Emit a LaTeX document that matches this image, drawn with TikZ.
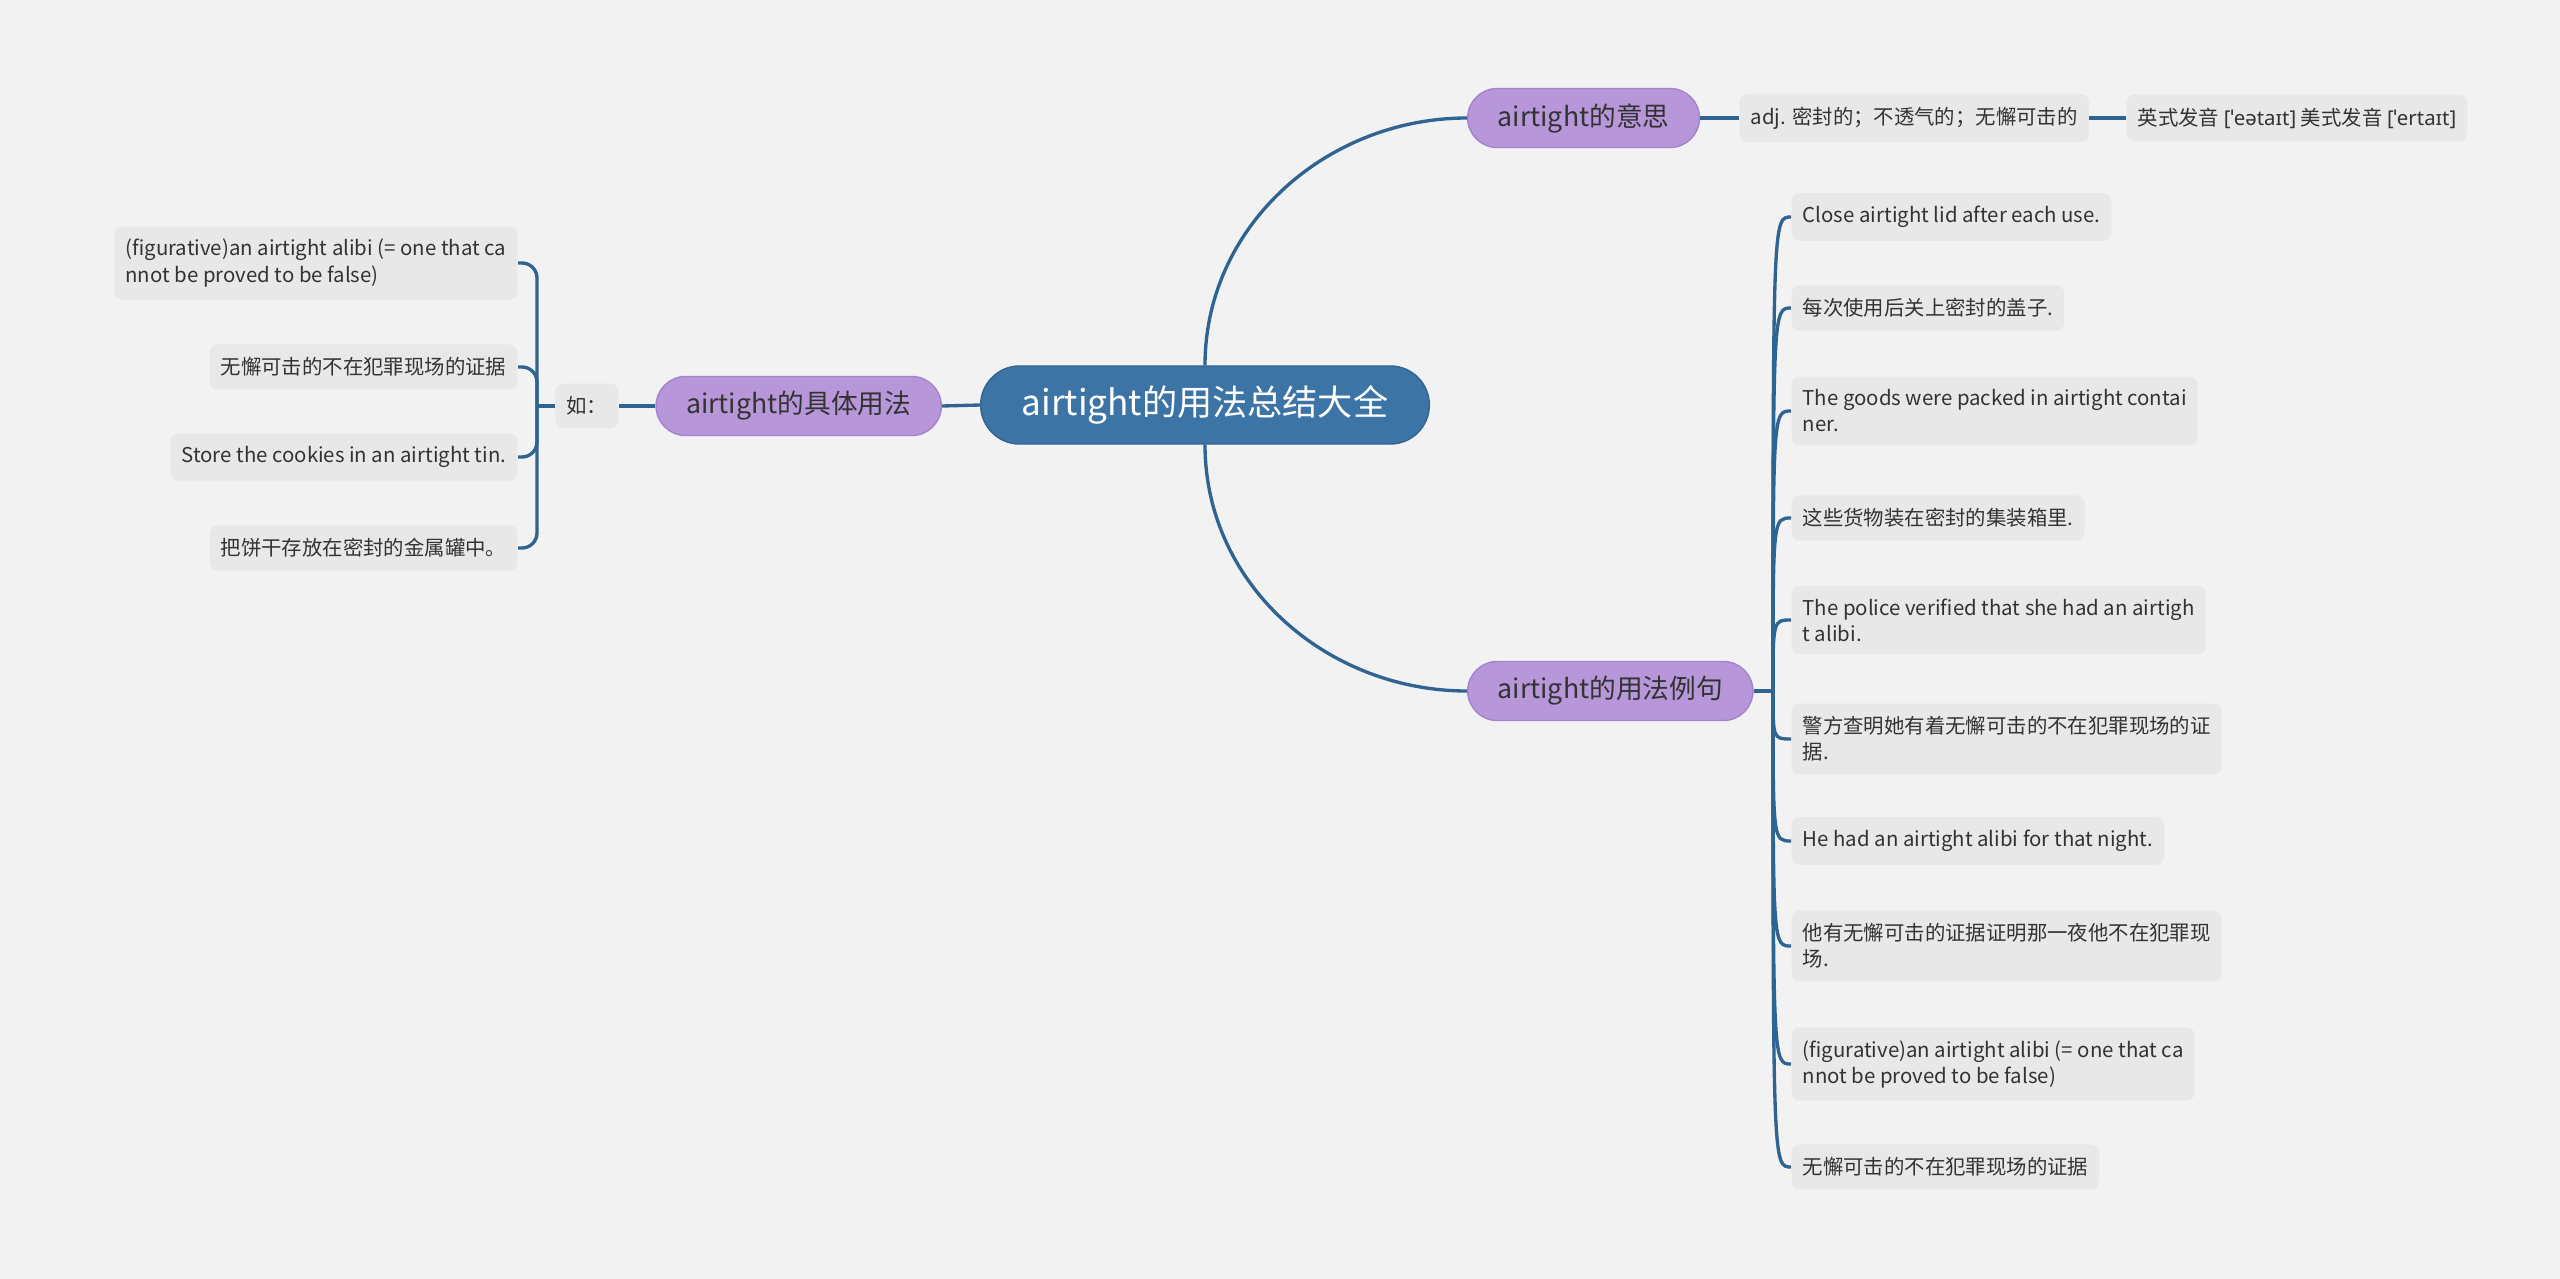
\documentclass[tikz,border=0pt]{standalone}
\usepackage{fontspec}
\setmainfont{Noto Sans CJK SC}
\newfontfamily\ipafont{Noto Sans}
\usetikzlibrary{calc}
\definecolor{bgcol}{HTML}{F2F2F2}
\definecolor{rootcol}{HTML}{3D74A6}
\definecolor{rootline}{HTML}{32658F}
\definecolor{topiccol}{HTML}{B797DA}
\definecolor{topicline}{HTML}{A583CC}
\definecolor{leafcol}{HTML}{E8E8E8}
\definecolor{linkcol}{HTML}{2F6392}
\definecolor{textcol}{HTML}{333333}
\tikzset{
  rootnode/.style={fill=rootcol, draw=rootline, rounded corners=0.39cm,
    minimum height=0.78cm, inner xsep=0.41cm, text=white,
    font=\fontsize{10pt}{12pt}\selectfont},
  topicnode/.style={fill=topiccol, draw=topicline, rounded corners=0.295cm,
    minimum height=0.59cm, inner xsep=0.3cm, text=textcol,
    font=\fontsize{7.6pt}{9pt}\selectfont},
  leafnode/.style={fill=leafcol, rounded corners=0.08cm, inner xsep=0.11cm,
    inner ysep=0.13cm, align=left, text=textcol,
    font=\fontsize{5.8pt}{7.4pt}\selectfont},
  link/.style={draw=linkcol, line width=0.95pt},
}
\begin{document}
\begin{tikzpicture}[x=0.01cm,y=-0.01cm]
\useasboundingbox (0,0) rectangle (2560,1279);
\fill[bgcol] (0,0) rectangle (2560,1279);
% centre and main topics
\node[rootnode] (root) at (1205,405) {airtight的用法总结大全};
\node[topicnode,anchor=west] (mean) at (1467,118) {airtight的意思};
\node[topicnode,anchor=west] (examples) at (1467,691) {airtight的用法例句};
\node[topicnode,anchor=east] (usage) at (942,406) {airtight的具体用法};
% meaning
\node[leafnode,anchor=west] (adj) at (1739,118) {adj. 密封的；不透气的；无懈可击的};
\node[leafnode,anchor=west] (phon) at (2126,118)
  {英式发音 {\ipafont[ˈeətaɪt]} 美式发音 {\ipafont[ˈertaɪt]}};
% usage
\node[leafnode,anchor=east] (eg) at (619,406) {如：};
\node[leafnode,anchor=east] (u1) at (518,263)
  {(figurative)an airtight alibi (= one that ca\\nnot be proved to be false)};
\node[leafnode,anchor=east] (u2) at (518,367) {无懈可击的不在犯罪现场的证据};
\node[leafnode,anchor=east] (u3) at (518,457) {Store the cookies in an airtight tin.};
\node[leafnode,anchor=east] (u4) at (518,548) {把饼干存放在密封的金属罐中。};
% examples
\node[leafnode,anchor=west] (e1) at (1791,217) {Close airtight lid after each use.};
\node[leafnode,anchor=west] (e2) at (1791,308) {每次使用后关上密封的盖子.};
\node[leafnode,anchor=west] (e3) at (1791,411)
  {The goods were packed in airtight contai\\ner.};
\node[leafnode,anchor=west] (e4) at (1791,518) {这些货物装在密封的集装箱里.};
\node[leafnode,anchor=west] (e5) at (1791,620)
  {The police verified that she had an airtigh\\t alibi.};
\node[leafnode,anchor=west] (e6) at (1791,739)
  {警方查明她有着无懈可击的不在犯罪现场的证\\据.};
\node[leafnode,anchor=west] (e7) at (1791,841) {He had an airtight alibi for that night.};
\node[leafnode,anchor=west] (e8) at (1791,946)
  {他有无懈可击的证据证明那一夜他不在犯罪现\\场.};
\node[leafnode,anchor=west] (e9) at (1791,1064)
  {(figurative)an airtight alibi (= one that ca\\nnot be proved to be false)};
\node[leafnode,anchor=west] (e10) at (1791,1167) {无懈可击的不在犯罪现场的证据};
% connectors
\draw[link] (root.north) .. controls +(0,-140) and +(-140,0) .. (mean.west);
\draw[link] (root.south) .. controls +(0,140) and +(-140,0) .. (examples.west);
\draw[link] (root.west) -- (usage.east);
\draw[link] (mean.east) -- (adj.west);
\draw[link] (adj.east) -- (phon.west);
\draw[link] (usage.west) -- (eg.east);
\coordinate (fork) at (537,406);
\draw[link] (eg.west) -- (fork);
\foreach \i in {1,...,4}
  \draw[link,rounded corners=0.15cm] (u\i.east) -| (fork);
\coordinate (hub) at (1773,691);
\draw[link] (examples.east) -- (hub);
\foreach \i in {1,...,10}
  \draw[link] (hub) .. controls (hub |- e\i.west) .. (e\i.west);
\end{tikzpicture}
\end{document}
